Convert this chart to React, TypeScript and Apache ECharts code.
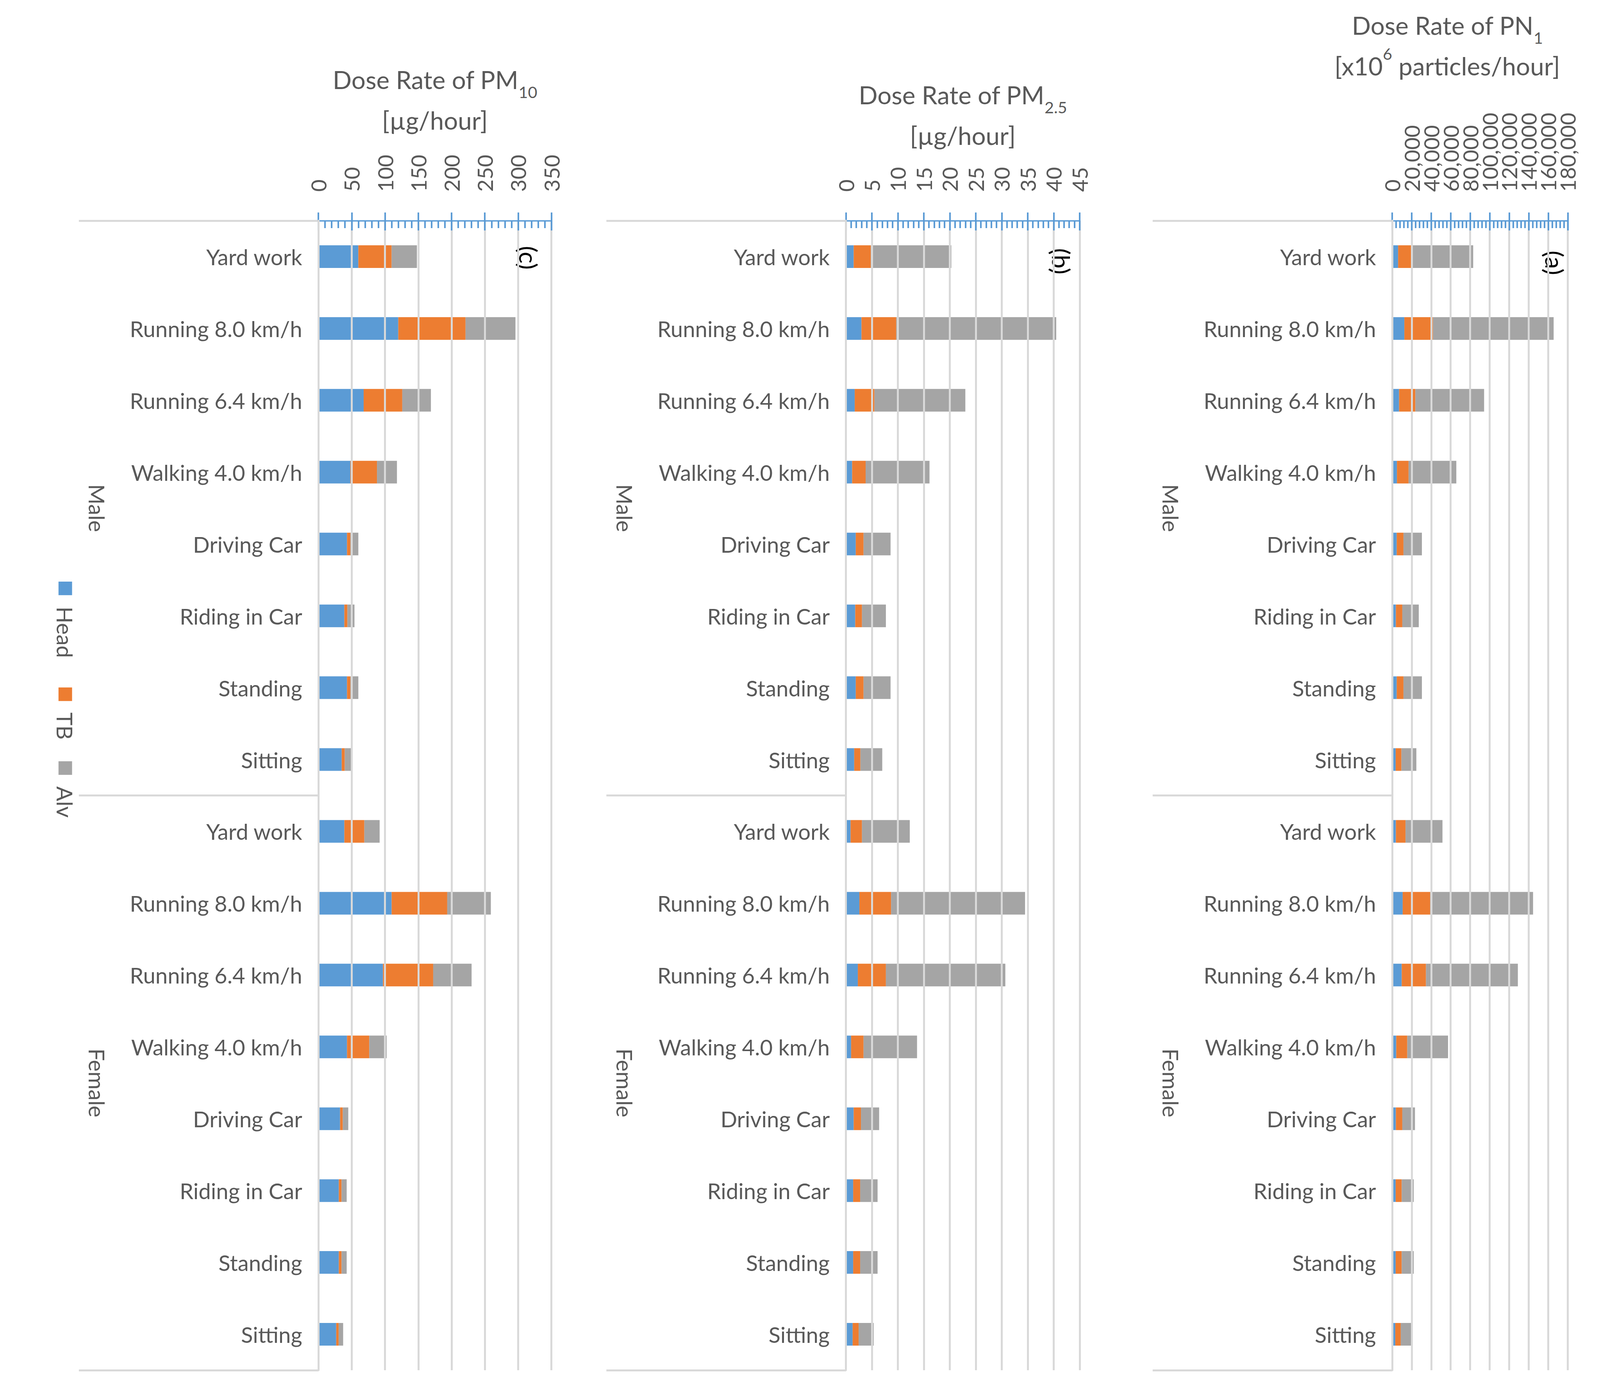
import React, { useEffect, useRef } from 'react';
import * as echarts from 'echarts';

// ---------- data ----------
const activities = ['Yard work', 'Running 8.0 km/h', 'Running 6.4 km/h', 'Walking 4.0 km/h', 'Driving Car', 'Riding in Car', 'Standing', 'Sitting'];
const categories = [...activities, ...activities];
const genders = ['Male', 'Female'];
const seriesNames = ['Head', 'TB', 'Alv'];

// PM10 dose rate [µg/hour]  (Male x8, Female x8)
const pm10Head = [60, 120, 68, 48, 43, 39, 43, 35, 39, 110, 97, 43, 32.6, 30.7, 30.7, 26.8];
const pm10TB = [50, 101, 58, 40, 5, 4.6, 5, 4.6, 30, 83.5, 75.4, 33.4, 4.1, 4.1, 4.1, 3.6];
const pm10Alv = [38, 75, 43, 30, 12, 10.6, 12, 9.4, 23, 65.5, 57.7, 26.1, 8.2, 7.7, 7.7, 6.8];

// PM2.5 dose rate [µg/hour]
const pm25Head = [1.5, 3.0, 1.7, 1.2, 1.9, 1.8, 1.9, 1.6, 0.9, 2.6, 2.3, 1.0, 1.5, 1.4, 1.4, 1.3];
const pm25TB = [3.3, 6.7, 3.8, 2.6, 1.5, 1.3, 1.5, 1.2, 2.2, 6.1, 5.4, 2.4, 1.4, 1.35, 1.35, 1.15];
const pm25Alv = [15.5, 30.8, 17.5, 12.3, 5.2, 4.6, 5.2, 4.2, 9.2, 25.8, 23.0, 10.3, 3.5, 3.35, 3.35, 2.9];

// PN1 dose rate [x10^6 particles/hour]
const pn1Head = [6100, 12500, 7100, 4900, 4700, 3800, 4700, 3600, 3800, 10800, 9800, 4200, 3800, 3600, 3600, 3200];
const pn1TB = [15000, 29400, 16700, 11900, 6900, 6600, 6900, 5900, 9900, 28200, 24900, 11300, 6600, 6200, 6200, 5600];
const pn1Alv = [62000, 123700, 70500, 49000, 18900, 16900, 18900, 15300, 37900, 105500, 94200, 41800, 13000, 12300, 12300, 10500];

// tick labels
const pm10Ticks = [0, 50, 100, 150, 200, 250, 300, 350];
const pm25Ticks = [0, 5, 10, 15, 20, 25, 30, 35, 40, 45];
const pn1Ticks = [0, 20000, 40000, 60000, 80000, 100000, 120000, 140000, 160000, 180000];

const panelLabels = ['(c)', '(b)', '(a)'];
const titles = [
  'Dose Rate of PM{sub|10}\n[µg/hour]',
  'Dose Rate of PM{sub|2.5}\n[µg/hour]',
  'Dose Rate of PN{sub|1}\n[x10{sup|6} particles/hour]',
];

// ---------- styles / layout (designed in a 4950 x 3574 space) ----------
const W0 = 4950;
const H0 = 3574;
const FONT = 'Lato, "Open Sans", sans-serif';
const TEXT = '#595959';
const GRID_GREY = '#D9D9D9';
const AXIS_BLUE = '#5B9BD5';
const colors = ['#5B9BD5', '#ED7D31', '#A5A5A5'];
const TOP = 565;
const PLOT_H = 2943;

const panels = [
  { left: 985, width: 721, ticks: pm10Ticks, data: [pm10Head, pm10TB, pm10Alv], nameGap: 206, titleShift: 0, label: { x: 1636, y: 660 } },
  { left: 2617, width: 723, ticks: pm25Ticks, data: [pm25Head, pm25TB, pm25Alv], nameGap: 167, titleShift: 0, label: { x: 3284, y: 669 } },
  { left: 4307, width: 543, ticks: pn1Ticks, data: [pn1Head, pn1TB, pn1Alv], nameGap: 345, titleShift: -101, label: { x: 4810, y: 673 } },
];

function fmt(v: number) {
  return v.toLocaleString('en-US');
}

function buildOption(w: number, h: number) {
  const sx = w / W0;
  const sy = h / H0;
  const sf = Math.min(sx, sy);
  const X = (v: number) => v * sx;
  const Y = (v: number) => v * sy;
  const F = (v: number) => v * sf;

  const grid: any[] = [];
  const xAxis: any[] = [];
  const yAxis: any[] = [];
  const series: any[] = [];

  panels.forEach((p, i) => {
    const ticks = p.ticks;
    const min = ticks[0];
    const max = ticks[ticks.length - 1];
    const interval = ticks[1] - ticks[0];
    grid.push({
      left: X(p.left),
      top: Y(TOP),
      width: X(p.width),
      height: Y(PLOT_H),
      containLabel: false,
      outerBoundsMode: 'none',
    });

    // labels are split between two overlaid axes (even / odd ticks) so none is auto-hidden
    const labelStyle = (parity: number) => ({
      rotate: -90,
      margin: Y(74),
      color: TEXT,
      fontSize: F(66),
      lineHeight: F(40),
      fontFamily: FONT,
      showMinLabel: true,
      showMaxLabel: true,
      hideOverlap: false,
      formatter: (v: number) => (Math.round((v - min) / interval) % 2 === parity ? fmt(v) : ''),
    });

    const shift = X(p.titleShift);
    const pad = shift < 0 ? [0, -2 * shift, 0, 0] : [0, 0, 0, 2 * shift];
    xAxis.push({
      type: 'value',
      gridIndex: i,
      position: 'top',
      min,
      max,
      interval,
      axisLine: { show: true, lineStyle: { color: AXIS_BLUE, width: F(4) } },
      axisTick: { show: true, inside: true, length: Y(25), lineStyle: { color: AXIS_BLUE, width: F(5) } },
      minorTick: { show: true, splitNumber: 5, length: Y(19), lineStyle: { color: AXIS_BLUE, width: F(5) } },
      splitLine: { show: true, lineStyle: { color: GRID_GREY, width: F(6) } },
      axisLabel: labelStyle(0),
      name: titles[i],
      nameLocation: 'middle',
      nameGap: Y(p.nameGap),
      nameMoveOverlap: false,
      nameTextStyle: {
        color: TEXT,
        fontFamily: FONT,
        fontSize: F(77),
        lineHeight: Y(104),
        padding: pad,
        rich: {
          sub: { fontSize: F(50), lineHeight: F(50), verticalAlign: 'bottom', color: TEXT, fontFamily: FONT },
          sup: { fontSize: F(50), lineHeight: F(50), verticalAlign: 'top', color: TEXT, fontFamily: FONT },
        },
      },
      z: 4,
    });
    // helper axis: outward half of the crossing major ticks + odd labels
    xAxis.push({
      type: 'value',
      gridIndex: i,
      position: 'top',
      min,
      max,
      interval,
      axisLine: { show: false },
      axisTick: { show: true, inside: false, length: Y(21), lineStyle: { color: AXIS_BLUE, width: F(5) } },
      minorTick: { show: false },
      splitLine: { show: false },
      axisLabel: labelStyle(1),
      z: 4,
    });
    yAxis.push({
      type: 'category',
      gridIndex: i,
      data: categories,
      inverse: true,
      position: 'left',
      axisLine: { show: true, lineStyle: { color: GRID_GREY, width: F(6) } },
      axisTick: { show: false },
      axisLabel: { interval: 0, margin: X(50), color: TEXT, fontSize: F(68), fontFamily: FONT },
      splitLine: { show: false },
      z: 5,
    });
    yAxis.push({
      type: 'category',
      gridIndex: i,
      data: genders,
      inverse: true,
      position: 'left',
      axisLine: { show: false },
      axisTick: { show: true, length: X(741), lineStyle: { color: GRID_GREY, width: F(6) } },
      axisLabel: { rotate: -90, margin: X(650), color: TEXT, fontSize: F(68), fontFamily: FONT },
      splitLine: { show: false },
    });

    p.data.forEach((vals, k) => {
      series.push({
        type: 'bar',
        name: seriesNames[k],
        xAxisIndex: 2 * i,
        yAxisIndex: 2 * i,
        stack: 'panel' + i,
        data: vals,
        barCategoryGap: '68.5%',
        itemStyle: { color: colors[k] },
        silent: true,
      });
    });
  });

  const graphic: any[] = [];
  panels.forEach((p, i) => {
    graphic.push({
      type: 'text',
      x: X(p.label.x),
      y: Y(p.label.y),
      rotation: -Math.PI / 2,
      style: { text: panelLabels[i], fontSize: F(76), fontFamily: FONT, fill: '#000000', align: 'center', verticalAlign: 'middle' },
    });
  });

  const legendOffsets = [0, 271, 460];
  const legendChildren: any[] = [];
  seriesNames.forEach((n, k) => {
    const o = Y(legendOffsets[k]);
    legendChildren.push({ type: 'rect', shape: { x: o, y: -F(21), width: F(42), height: F(42) }, style: { fill: colors[k] } });
    legendChildren.push({
      type: 'text',
      x: o + Y(64),
      y: 0,
      style: { text: n, fontSize: F(68), fontFamily: FONT, fill: TEXT, align: 'left', verticalAlign: 'middle' },
    });
  });
  graphic.push({ type: 'group', x: X(202), y: Y(1489), rotation: -Math.PI / 2, children: legendChildren });

  return {
    animation: false,
    backgroundColor: '#ffffff',
    grid,
    xAxis,
    yAxis,
    series,
    graphic,
  };
}

export default function App() {
  const ref = useRef<HTMLDivElement>(null);
  const w = typeof window !== 'undefined' ? window.innerWidth : W0;
  const h = typeof window !== 'undefined' ? window.innerHeight : H0;
  useEffect(() => {
    document.body.style.margin = '0';
    document.body.style.overflow = 'hidden';
    if (!ref.current) return;
    const cw = window.innerWidth;
    const ch = window.innerHeight;
    const chart = echarts.init(ref.current, null, { renderer: 'svg', width: cw, height: ch });
    chart.setOption(buildOption(cw, ch) as any);
    return () => chart.dispose();
  }, []);
  return <div ref={ref} style={{ width: w, height: h }} />;
}
